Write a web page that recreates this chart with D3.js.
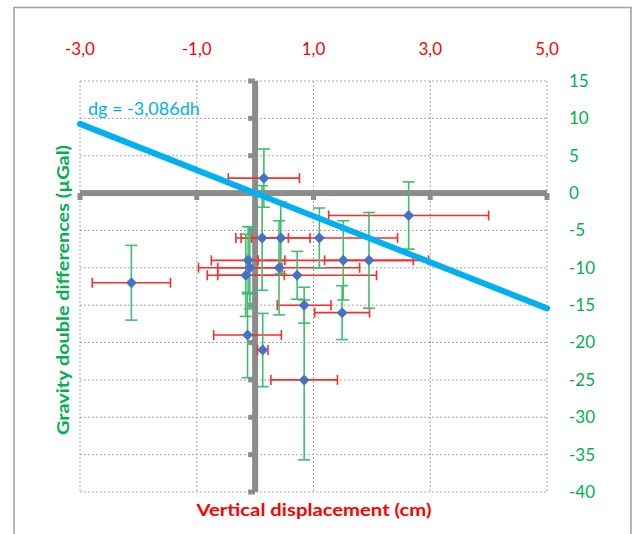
<!DOCTYPE html>
<html>
<head>
<meta charset="utf-8">
<script src="https://cdn.jsdelivr.net/npm/d3@7/dist/d3.min.js"></script>
<style>
html,body{margin:0;padding:0;background:#fff;}
svg{display:block;}
text{font-family:Lato,"Open Sans","Liberation Sans",sans-serif;}
</style>
</head>
<body>
<svg id="chart" width="634" height="534"></svg>
<script>
// ---- data ----
const dh    = [0.15, 2.63, 0.12, 0.44, 1.10, -0.12, 1.51, 1.95, -0.09, 0.41, -0.16, 0.72, -2.12, 0.84, 1.49, -0.13, 0.13, 0.84];
const dg    = [2, -3, -6, -6, -6, -9, -9, -9, -10, -10, -11, -11, -12, -15, -16, -19, -21, -25];
const dhErr = [0.61, 1.37, 0.45, 0.50, 1.34, 0.63, 1.46, 0.76, 0.55, 1.38, 0.66, 1.36, 0.67, 0.46, 0.47, 0.58, 0.09, 0.57];
const dgErr = [3.9, 4.5, 7.0, 4.8, 4.0, 4.5, 5.3, 6.4, 5.5, 6.3, 5.5, 3.2, 5.0, 2.4, 3.6, 5.7, 4.9, 10.7];
const slope = -3.086;
const trendLabel = "dg = -3,086dh";
const xTicks = [-3, -1, 1, 3, 5];
const xTickLabels = ["-3,0", "-1,0", "1,0", "3,0", "5,0"];
const yTicks = [15, 10, 5, 0, -5, -10, -15, -20, -25, -30, -35, -40];
const xTitle = "Vertical displacement (cm)";
const yTitle = "Gravity double differences (µGal)";

const svg = d3.select("#chart");
const x = d3.scaleLinear().domain([-3, 5]).range([80, 547]);
const y = d3.scaleLinear().domain([-40, 15]).range([492, 81]);

// outer frame
svg.append("rect").attr("x", 14).attr("y", 7.5).attr("width", 617).attr("height", 540)
  .attr("fill", "none").attr("stroke", "#a0a0a0").attr("stroke-width", 1.5);

// gridlines
const grid = svg.append("g").attr("stroke", "#a6a6a6").attr("stroke-width", 1).attr("stroke-dasharray", "2,2");
grid.selectAll("line.h").data(yTicks).join("line")
  .attr("x1", x(-3)).attr("x2", x(5)).attr("y1", d => y(d)).attr("y2", d => y(d));
grid.selectAll("line.v").data(xTicks).join("line")
  .attr("y1", y(15)).attr("y2", y(-40)).attr("x1", d => x(d)).attr("x2", d => x(d));

// thick axes
const axG = svg.append("g").attr("fill", "#8c8c8c");
axG.append("rect").attr("x", x(-3)).attr("y", y(0) - 3).attr("width", x(5) - x(-3)).attr("height", 6);
axG.append("rect").attr("x", x(0) - 3).attr("y", y(15)).attr("width", 6).attr("height", y(-40) - y(15));
axG.selectAll("rect.tx").data(xTicks).join("rect")
  .attr("x", d => x(d) - 2.5).attr("y", y(0)).attr("width", 5).attr("height", 7);
axG.selectAll("rect.ty").data(yTicks).join("rect")
  .attr("x", x(0) - 7).attr("y", d => y(d) - 2.5).attr("width", 7).attr("height", 5);

// tick labels (top: x, right: y)
svg.append("g").selectAll("text").data(xTicks).join("text")
  .attr("x", d => x(d)).attr("y", 55).attr("text-anchor", "middle")
  .attr("font-size", 17).attr("fill", "#ff0000")
  .text((d, i) => xTickLabels[i]);
svg.append("g").selectAll("text").data(yTicks).join("text")
  .attr("x", 569).attr("y", d => y(d)).attr("dy", "0.35em")
  .attr("font-size", 17).attr("fill", "#00b050")
  .text(d => String(d));

// error bars
const idx = d3.range(dh.length);
const eb = svg.append("g").attr("stroke-width", 1.6);
const red = "#ff2a2a", green = "#3cbf6e";
eb.selectAll("line.xe").data(idx).join("line")
  .attr("stroke", red)
  .attr("x1", i => x(dh[i] - dhErr[i])).attr("x2", i => x(dh[i] + dhErr[i]))
  .attr("y1", i => y(dg[i])).attr("y2", i => y(dg[i]));
eb.selectAll("line.xc1").data(idx).join("line").attr("stroke", red)
  .attr("x1", i => x(dh[i] - dhErr[i])).attr("x2", i => x(dh[i] - dhErr[i]))
  .attr("y1", i => y(dg[i]) - 5).attr("y2", i => y(dg[i]) + 5);
eb.selectAll("line.xc2").data(idx).join("line").attr("stroke", red)
  .attr("x1", i => x(dh[i] + dhErr[i])).attr("x2", i => x(dh[i] + dhErr[i]))
  .attr("y1", i => y(dg[i]) - 5).attr("y2", i => y(dg[i]) + 5);
eb.selectAll("line.ye").data(idx).join("line").attr("stroke", green)
  .attr("x1", i => x(dh[i])).attr("x2", i => x(dh[i]))
  .attr("y1", i => y(dg[i] - dgErr[i])).attr("y2", i => y(dg[i] + dgErr[i]));
eb.selectAll("line.yc1").data(idx).join("line").attr("stroke", green)
  .attr("x1", i => x(dh[i]) - 6).attr("x2", i => x(dh[i]) + 6)
  .attr("y1", i => y(dg[i] - dgErr[i])).attr("y2", i => y(dg[i] - dgErr[i]));
eb.selectAll("line.yc2").data(idx).join("line").attr("stroke", green)
  .attr("x1", i => x(dh[i]) - 6).attr("x2", i => x(dh[i]) + 6)
  .attr("y1", i => y(dg[i] + dgErr[i])).attr("y2", i => y(dg[i] + dgErr[i]));

// trend line
svg.append("line")
  .attr("x1", x(-3)).attr("y1", y(slope * -3))
  .attr("x2", x(5)).attr("y2", y(slope * 5))
  .attr("stroke", "#00b0f0").attr("stroke-width", 6).attr("stroke-linecap", "round");
svg.append("text").attr("x", 88).attr("y", 115).attr("font-size", 18).attr("fill", "#00b0f0")
  .text(trendLabel);

// markers
svg.append("g").selectAll("path").data(idx).join("path")
  .attr("transform", i => `translate(${x(dh[i])},${y(dg[i])})`)
  .attr("d", "M0,-5.5L5.5,0L0,5.5L-5.5,0Z")
  .attr("fill", "#4472c4");

// axis titles
svg.append("text").attr("x", 314).attr("y", 516).attr("text-anchor", "middle")
  .attr("font-size", 17).attr("font-weight", "bold").attr("fill", "#ff0000")
  .attr("textLength", 235).attr("lengthAdjust", "spacingAndGlyphs")
  .text(xTitle);
svg.append("text").attr("transform", "translate(69,290) rotate(-90)").attr("text-anchor", "middle")
  .attr("font-size", 17).attr("font-weight", "bold").attr("fill", "#00b050")
  .attr("textLength", 290).attr("lengthAdjust", "spacingAndGlyphs")
  .text(yTitle);
</script>
</body>
</html>
